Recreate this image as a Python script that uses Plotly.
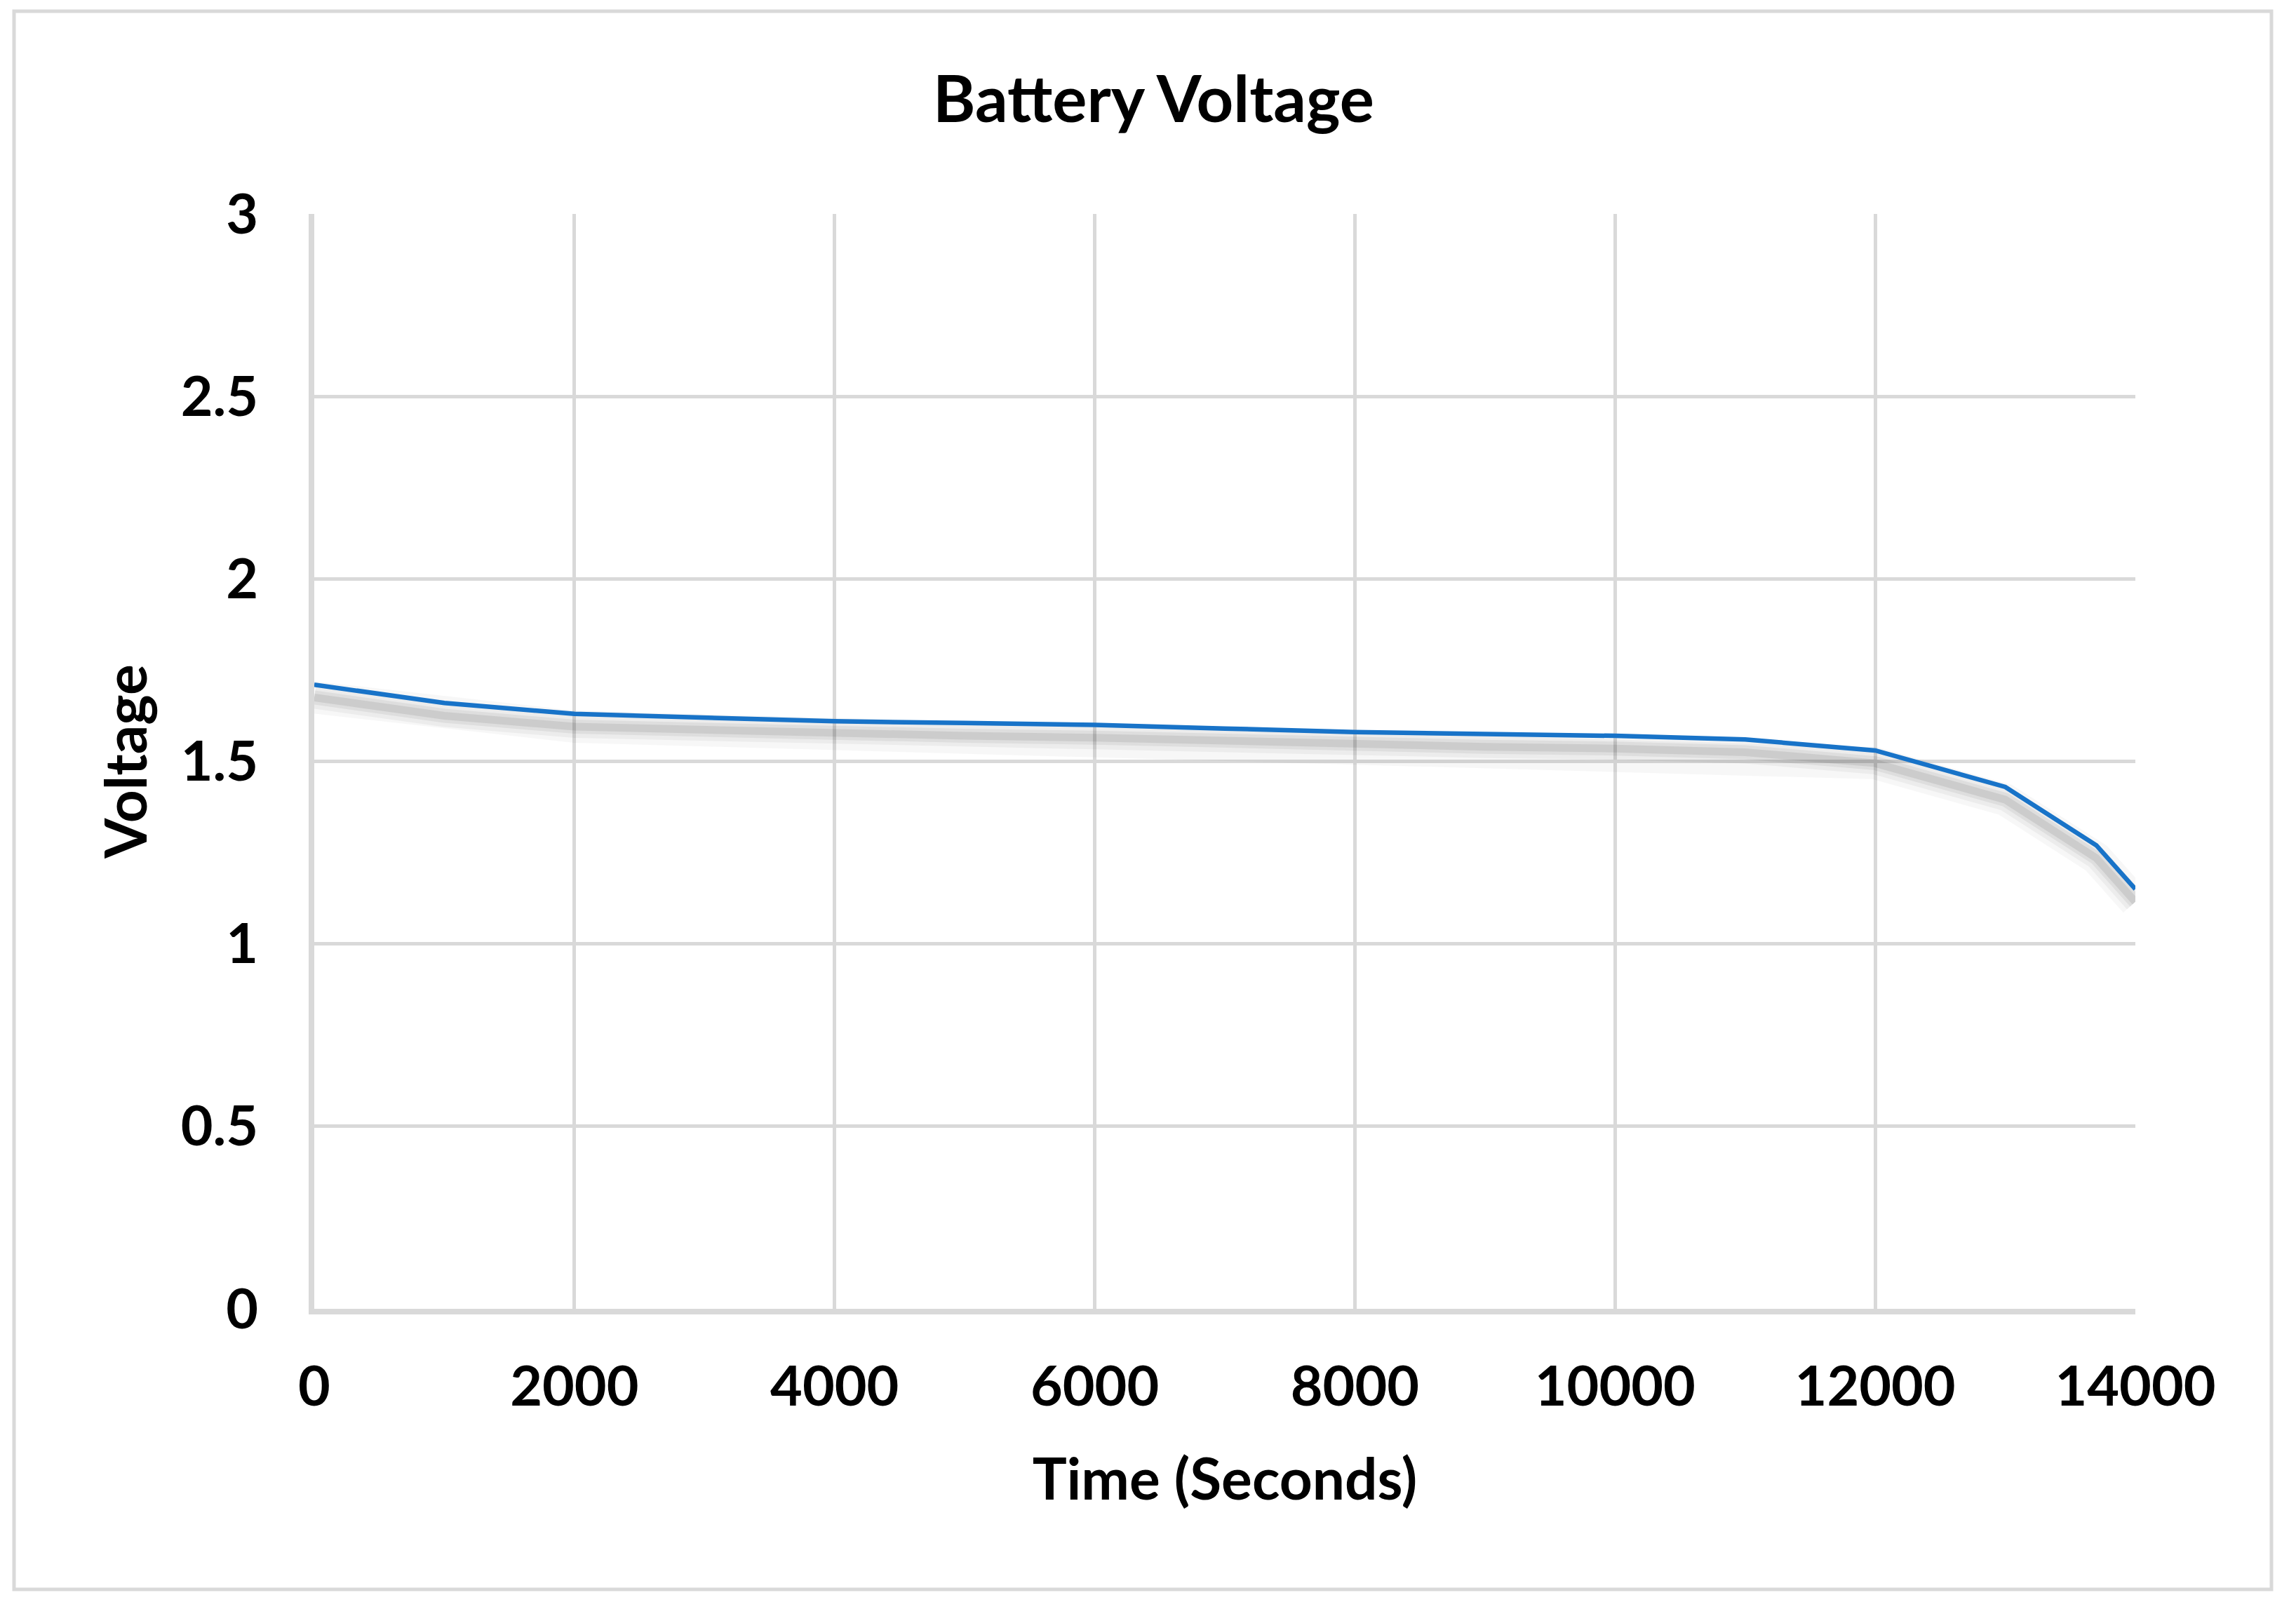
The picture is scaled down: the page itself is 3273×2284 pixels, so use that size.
import plotly.graph_objects as go

time_s = [0, 1000, 2000, 3000, 4000, 5000, 6000, 7000, 8000, 9000, 10000, 11000, 12000, 13000, 13700, 14000]
voltage = [1.71, 1.66, 1.63, 1.62, 1.61, 1.605, 1.60, 1.59, 1.58, 1.575, 1.57, 1.56, 1.53, 1.43, 1.27, 1.15]

x_ticks = [0, 2000, 4000, 6000, 8000, 10000, 12000, 14000]
y_ticks = [0, 0.5, 1, 1.5, 2, 2.5, 3]

FONT = "Lato"
GRID = "#D9D9D9"
LINE = "#1873C8"

fig = go.Figure()

# soft drop shadow beneath the line (derived from the data)
shadow_y = [v - 0.035 for v in voltage]
for w, a in [(46, 0.03), (32, 0.045), (20, 0.06), (11, 0.08)]:
    fig.add_trace(go.Scatter(x=time_s, y=shadow_y, mode="lines",
                             line=dict(color=f"rgba(0,0,0,{a})", width=w),
                             hoverinfo="skip", showlegend=False))

fig.add_trace(go.Scatter(x=time_s, y=voltage, mode="lines",
                         line=dict(color=LINE, width=6.5),
                         name="Voltage", showlegend=False))

fig.update_layout(
    width=3273, height=2284,
    margin=dict(l=440, r=237, t=297, b=426),
    paper_bgcolor="white", plot_bgcolor="white",
    title=dict(text="Battery Voltage", x=0.5, xanchor="center",
               yref="container", y=1 - 134 / 2284, yanchor="middle",
               font=dict(family=FONT, size=92, color="black", weight="bold")),
    font=dict(family=FONT, color="black"),
    shapes=[dict(type="rect", xref="paper", yref="paper",
                 x0=-428 / 2596, x1=(3238 - 448) / 2596,
                 y0=-(2266 - 1866) / 1561, y1=(1866 - 16) / 1561,
                 line=dict(color=GRID, width=5), layer="below")],
)

fig.update_xaxes(
    range=[0, 14000], tickvals=x_ticks, ticktext=[str(t) for t in x_ticks],
    showgrid=True, gridcolor=GRID, gridwidth=5,
    showline=True, linecolor=GRID, linewidth=8,
    zeroline=False, ticks="", ticklabelstandoff=35,
    tickfont=dict(family=FONT, size=79, color="black", weight="bold"),
    title=dict(text="Time (Seconds)", standoff=64,
               font=dict(family=FONT, size=82, color="black", weight="bold")),
)
fig.update_yaxes(
    range=[0, 3], tickvals=y_ticks, ticktext=[f"{t:g}" for t in y_ticks],
    showgrid=True, gridcolor=GRID, gridwidth=5,
    showline=True, linecolor=GRID, linewidth=8,
    zeroline=False, ticks="", ticklabelstandoff=56,
    tickfont=dict(family=FONT, size=79, color="black", weight="bold"),
    title=dict(text="Voltage", standoff=24,
               font=dict(family=FONT, size=82, color="black", weight="bold")),
)

fig.write_html("out.html")
